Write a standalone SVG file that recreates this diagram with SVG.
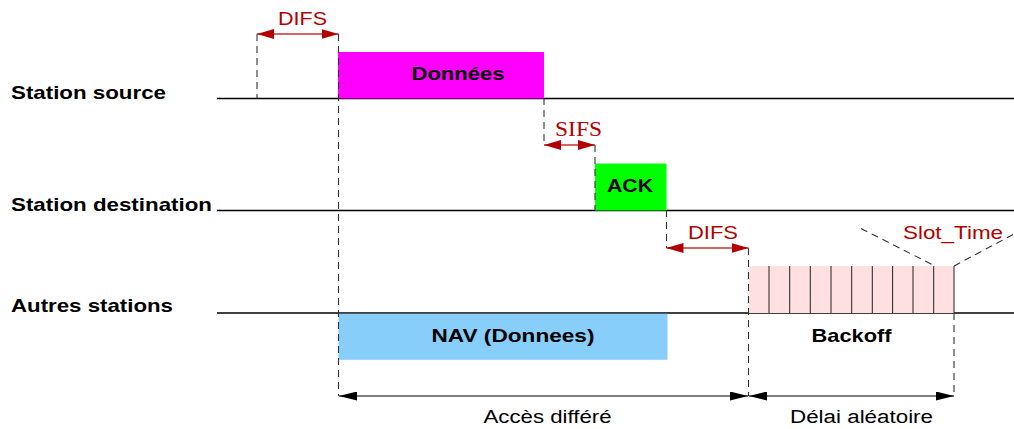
<svg xmlns="http://www.w3.org/2000/svg" width="1014" height="429" viewBox="0 0 1014 429">
<style>
.lbl{font-family:"Liberation Sans",Arial,sans-serif;font-weight:bold;font-size:19px;fill:#000}
.red{font-family:"Liberation Sans",Arial,sans-serif;font-size:19px;fill:#b20000}
.redser{font-family:"Liberation Serif","Times New Roman",serif;font-size:21px;fill:#b20000}
.norm{font-family:"Liberation Sans",Arial,sans-serif;font-size:18px;fill:#000}
.lane{stroke:#000;stroke-width:1.6;fill:none}
.dash{stroke:#333;stroke-width:1.1;stroke-dasharray:7 5;fill:none}
.rarr{stroke:#c83030;stroke-width:1.6;fill:none;marker-start:url(#rh);marker-end:url(#rh)}
.barr{stroke:#555;stroke-width:1.4;fill:none;marker-start:url(#bh);marker-end:url(#bh)}
.slot{stroke:#222;stroke-width:1}
</style>
<defs>
<marker id="rh" viewBox="0 0 17 10" refX="17" refY="5" markerWidth="17" markerHeight="10" markerUnits="userSpaceOnUse" orient="auto-start-reverse">
<path d="M0,0 L17,5 L0,10 Z" fill="#b20000"/>
</marker>
<marker id="bh" viewBox="0 0 18 9" refX="18" refY="4.5" markerWidth="18" markerHeight="9" markerUnits="userSpaceOnUse" orient="auto-start-reverse">
<path d="M0,0 L18,4.5 L0,9 Z" fill="#000"/>
</marker>
</defs>
<rect width="1014" height="429" fill="#fff"/>

<g id="lanes">
<line class="lane" x1="217" y1="98.5" x2="1014" y2="98.5"/>
<line class="lane" x1="217" y1="210.5" x2="1014" y2="210.5"/>
<line class="lane" x1="217" y1="313" x2="1014" y2="313"/>
</g>

<g id="lane-source"><text class="lbl" x="11" y="99" textLength="155" lengthAdjust="spacingAndGlyphs">Station source</text></g>
<g id="lane-destination"><text class="lbl" x="11" y="211" textLength="201" lengthAdjust="spacingAndGlyphs">Station destination</text></g>
<g id="lane-autres"><text class="lbl" x="11" y="312" textLength="162" lengthAdjust="spacingAndGlyphs">Autres stations</text></g>

<g id="donnees">
<rect x="338" y="52" width="206" height="46.5" fill="#ff00ff"/>
<text class="lbl" x="458" y="80" text-anchor="middle" textLength="93" lengthAdjust="spacingAndGlyphs">Données</text>
</g>

<g id="ack">
<rect x="595" y="163.5" width="71.5" height="47" fill="#00ff00"/>
<text class="lbl" x="630" y="192" text-anchor="middle" textLength="46" lengthAdjust="spacingAndGlyphs">ACK</text>
</g>

<g id="nav">
<rect x="338.5" y="313.8" width="329" height="46" fill="#87cefa"/>
<text class="lbl" x="513" y="342" text-anchor="middle" textLength="163" lengthAdjust="spacingAndGlyphs">NAV (Donnees)</text>
</g>

<g id="backoff">
<rect x="748.5" y="266" width="205.5" height="47" fill="#ffe0e0"/>
<g class="slot">
<line x1="769" y1="266" x2="769" y2="313"/>
<line x1="789.7" y1="266" x2="789.7" y2="313"/>
<line x1="810.3" y1="266" x2="810.3" y2="313"/>
<line x1="831" y1="266" x2="831" y2="313"/>
<line x1="851.7" y1="266" x2="851.7" y2="313"/>
<line x1="872.3" y1="266" x2="872.3" y2="313"/>
<line x1="892.6" y1="266" x2="892.6" y2="313"/>
<line x1="913" y1="266" x2="913" y2="313"/>
<line x1="933.7" y1="266" x2="933.7" y2="313"/>
<line x1="954" y1="266" x2="954" y2="313"/>
</g>
<text class="lbl" x="851.5" y="342" text-anchor="middle" textLength="80" lengthAdjust="spacingAndGlyphs">Backoff</text>
</g>

<g id="connectors">
<line class="dash" x1="257" y1="34" x2="257" y2="98"/>
<line class="dash" x1="338.5" y1="34" x2="338.5" y2="396"/>
<line class="dash" x1="544" y1="98" x2="544" y2="145"/>
<line class="dash" x1="595" y1="145" x2="595" y2="210"/>
<line class="dash" x1="666.5" y1="210" x2="666.5" y2="248"/>
<line class="dash" x1="748.5" y1="248" x2="748.5" y2="396"/>
<line class="dash" x1="954" y1="313" x2="954" y2="396"/>
<line class="dash" x1="861" y1="228.5" x2="933" y2="265"/>
<line class="dash" x1="954" y1="266" x2="1014" y2="234"/>

<line class="rarr" x1="257" y1="34" x2="338.5" y2="34"/>
<line class="rarr" x1="544" y1="145" x2="595" y2="145"/>
<line class="rarr" x1="666.5" y1="248" x2="748.5" y2="248"/>

<line class="barr" x1="339" y1="396" x2="748" y2="396"/>
<line class="barr" x1="749" y1="396" x2="954" y2="396"/>
</g>

<g id="labels">
<text class="red" x="302.5" y="25" text-anchor="middle" textLength="49" lengthAdjust="spacingAndGlyphs">DIFS</text>
<text class="redser" x="578.5" y="136" text-anchor="middle" textLength="47" lengthAdjust="spacingAndGlyphs">SIFS</text>
<text class="red" x="713" y="238.5" text-anchor="middle" textLength="50" lengthAdjust="spacingAndGlyphs">DIFS</text>
<text class="red" x="953" y="238.5" text-anchor="middle" textLength="100" lengthAdjust="spacingAndGlyphs">Slot_Time</text>
<text class="norm" x="547.5" y="423" text-anchor="middle" textLength="128" lengthAdjust="spacingAndGlyphs">Accès différé</text>
<text class="norm" x="861.5" y="423" text-anchor="middle" textLength="143" lengthAdjust="spacingAndGlyphs">Délai aléatoire</text>
</g>
</svg>
